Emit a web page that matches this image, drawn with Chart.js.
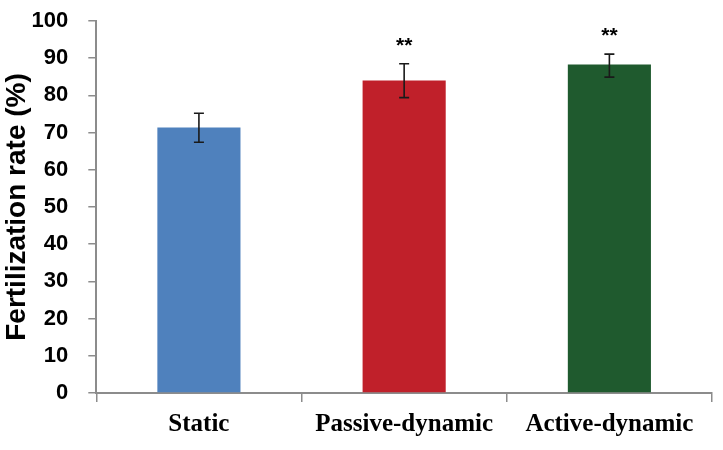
<!DOCTYPE html>
<html>
<head>
<meta charset="utf-8">
<script src="https://cdn.jsdelivr.net/npm/chart.js@4.4.0/dist/chart.umd.min.js"></script>
<style>
  html, body { margin: 0; padding: 0; background: #fff; }
  #wrap { width: 723px; height: 450px; position: relative; }
</style>
</head>
<body>
<div id="wrap"><canvas id="chart"></canvas></div>
<script>
const categories = ['Static', 'Passive-dynamic', 'Active-dynamic'];
const rates = [71.4, 84.0, 88.3];
const errLow = [67.4, 79.4, 84.9];
const errHigh = [75.2, 88.5, 91.1];
const marks = ['', '**', '**'];
const barColors = ['#4F81BD', '#C0202A', '#1F5A2E'];

// draws the error bars and the significance stars over the bars
const errorBars = {
  id: 'errorBars',
  afterDatasetsDraw(chart) {
    const ctx = chart.ctx;
    const y = chart.scales.y;
    const meta = chart.getDatasetMeta(0);
    ctx.save();
    ctx.strokeStyle = '#1a1a1a';
    ctx.lineWidth = 1.6;
    meta.data.forEach((bar, i) => {
      const top = y.getPixelForValue(errHigh[i]);
      const bot = y.getPixelForValue(errLow[i]);
      ctx.beginPath();
      ctx.moveTo(bar.x, top); ctx.lineTo(bar.x, bot);
      ctx.moveTo(bar.x - 5, top); ctx.lineTo(bar.x + 5, top);
      ctx.moveTo(bar.x - 5, bot); ctx.lineTo(bar.x + 5, bot);
      ctx.stroke();
      if (marks[i]) {
        ctx.fillStyle = '#000';
        ctx.font = 'bold 21px "Liberation Sans", Arial, sans-serif';
        ctx.textAlign = 'center';
        ctx.textBaseline = 'middle';
        ctx.fillText(marks[i], bar.x, top - 18);
      }
    });
    ctx.restore();
  }
};

new Chart(document.getElementById('chart').getContext('2d'), {
  type: 'bar',
  data: {
    labels: categories,
    datasets: [{
      data: rates,
      backgroundColor: barColors,
      categoryPercentage: 1,
      barPercentage: 0.405
    }]
  },
  options: {
    responsive: true,
    maintainAspectRatio: false,
    animation: false,
    layout: { padding: { left: 0, right: 11, top: 0, bottom: 2 } },
    plugins: { legend: { display: false }, tooltip: { enabled: false } },
    scales: {
      x: {
        grid: { offset: true, drawOnChartArea: false, tickLength: 9, color: '#8c8c8c', lineWidth: 1.5 },
        border: { color: '#8c8c8c', width: 2 },
        ticks: {
          color: '#000',
          padding: 8,
          font: { family: '"Liberation Serif", "Times New Roman", serif', size: 25, weight: 'bold' }
        }
      },
      y: {
        min: 0,
        max: 100,
        // keep the top of the axis close to the canvas edge
        afterFit(scale) { scale.paddingTop = 21; },
        grid: { drawOnChartArea: false, tickLength: 8, color: '#8c8c8c', lineWidth: 1.5 },
        border: { color: '#8c8c8c', width: 2 },
        ticks: {
          stepSize: 10,
          color: '#000',
          padding: 20,
          font: { family: '"Liberation Sans", Arial, sans-serif', size: 22, weight: 'bold' }
        },
        title: {
          display: true,
          text: 'Fertilization rate (%)',
          color: '#000',
          padding: { top: 0, bottom: -22 },
          font: { family: '"Liberation Sans", Arial, sans-serif', size: 28, weight: 'bold' }
        }
      }
    }
  },
  plugins: [errorBars]
});
</script>
</body>
</html>
